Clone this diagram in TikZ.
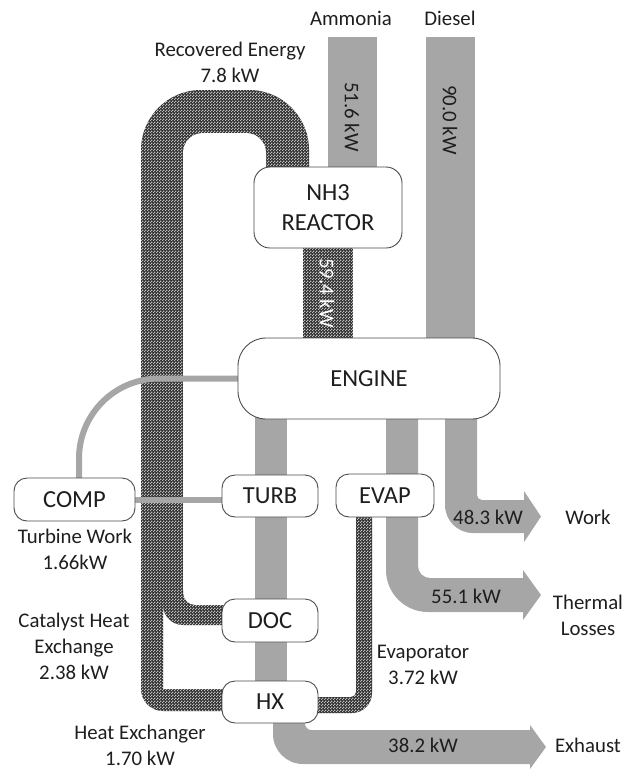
\documentclass[tikz,border=0pt]{standalone}
\usepackage{fontspec}
\setmainfont{Carlito}
\usetikzlibrary{patterns}
\definecolor{flowgray}{HTML}{A6A6A6}
\definecolor{txt}{HTML}{1E1E1E}
\newcommand\lblfont{\fontsize{20.8}{26}\selectfont}
\newcommand\boxfont{\fontsize{24.5}{30}\selectfont}
\pgfdeclarepatternformonly{checker}{\pgfqpoint{0pt}{0pt}}{\pgfqpoint{3pt}{3pt}}{\pgfqpoint{3pt}{3pt}}{%
  \pgfpathrectangle{\pgfqpoint{0pt}{0pt}}{\pgfqpoint{1.5pt}{1.5pt}}%
  \pgfpathrectangle{\pgfqpoint{1.5pt}{1.5pt}}{\pgfqpoint{1.5pt}{1.5pt}}%
  \pgfusepath{fill}}
\pgfdeclarelayer{bg}
\pgfsetlayers{bg,main}
\begin{document}
\begin{tikzpicture}[x=1pt,y=-1pt,
  flow/.style={fill=flowgray},
  darkflow/.style={preaction={fill=black!82}, pattern=checker, pattern color=black!25},
  link/.style={draw=flowgray, line width=6pt},
  box/.style={draw=black!70, line width=0.9pt, fill=white, rounded corners=13pt,
    inner sep=0pt, outer sep=0pt, font=\boxfont, text=txt, align=center},
  lbl/.style={font=\lblfont, text=txt, align=center, inner sep=0pt}
]
\useasboundingbox (0,0) rectangle (637,769);

% ---------- boxes ----------
\node[box, rounded corners=16pt, minimum width=148pt, minimum height=81pt] (reactor) at (328,207.5) {NH3\\REACTOR};
\node[box, rounded corners=28pt, minimum width=262pt, minimum height=81pt] (engine) at (369,378.5) {ENGINE};
\node[box, minimum width=96pt, minimum height=42pt] (turb) at (270,496) {TURB};
\node[box, minimum width=98pt, minimum height=43pt] (evap) at (385,495.5) {EVAP};
\node[box, minimum width=96pt, minimum height=43pt] (doc) at (270,620.5) {DOC};
\node[box, minimum width=96pt, minimum height=42pt] (hx) at (270,702) {HX};
\node[box, minimum width=121pt, minimum height=43pt] (comp) at (74.5,499.5) {COMP};

\begin{pgfonlayer}{bg}
% ---------- gray flows ----------
\fill[flow] (328,37) rectangle (377,185);              % ammonia
\fill[flow] (426,37) rectangle (475,350);              % diesel
\fill[flow] (255,410) rectangle (287,720);             % exhaust main
\fill[flow] (386,410) -- (386,570) .. controls (386,593.2) and (404.8,612) .. (428,612)
  -- (523,612) -- (523,620) -- (541,595) -- (523,570) -- (523,578) -- (430,578)
  .. controls (423.4,578) and (418,572.6) .. (418,566) -- (418,410) -- cycle; % thermal
\fill[flow] (445,410) -- (445,505) .. controls (445,520.5) and (457.5,533) .. (473,533)
  -- (524,533) -- (524,542) -- (541,516.5) -- (524,491) -- (524,500) -- (482,500)
  .. controls (479.2,500) and (477,497.8) .. (477,495) -- (477,410) -- cycle; % work
\fill[flow] (273,715) -- (273,734) .. controls (273,750.6) and (286.4,764) .. (303,764)
  -- (530,764) -- (530,769) -- (546,747) -- (530,725) -- (530,730) -- (311,730)
  .. controls (307.7,730) and (305,726.7) .. (305,724) -- (305,715) -- cycle; % exhaust

% ---------- recovered energy (dark) ----------
\begin{scope}
  \clip (120,80) rectangle (330,200);
  \fill[darkflow, rounded corners=60pt] (141,90) rectangle (309,400);
  \fill[white, rounded corners=20pt] (183,133) rectangle (266,400);
\end{scope}
\fill[darkflow] (141,195) rectangle (183,597);
\fill[darkflow] (163,590) -- (163,605) .. controls (163,616) and (172,625) .. (183,625)
  -- (225,625) -- (225,605) -- (195,605) .. controls (188.4,605) and (183,599.6) .. (183,593)
  -- (183,590) -- cycle;                                % to DOC
\fill[darkflow] (141,590) -- (141,689) .. controls (141,701.1) and (150.9,711) .. (163,711)
  -- (225,711) -- (225,689) -- (163,689) -- (163,590) -- cycle; % to HX
\fill[darkflow] (356,510) -- (372,510) -- (372,693) .. controls (372,704) and (363,713) .. (352,713)
  -- (315,713) -- (315,697) -- (351,697) .. controls (353.8,697) and (356,694.8) .. (356,692)
  -- cycle;                                           % evaporator
\fill[darkflow] (303,240) rectangle (353,345);          % 59.4 kW

% ---------- work links ----------
\draw[link, rounded corners=80pt] ([xshift=4.5pt]comp.north) |- (engine.west);
\draw[link] (comp.east) -- (comp.east -| turb.west);
\end{pgfonlayer}

% ---------- labels ----------
\node[lbl] (lamm) at (351,18) {Ammonia};
\node[lbl] (ldie) at (450,18) {Diesel};
\node[lbl] (lrec) at (230,62) {Recovered Energy\\7.8 kW};
\node[lbl, rotate=-90] (l516) at (352,117) {51.6 kW};
\node[lbl, rotate=-90] (l900) at (450,120) {90.0 kW};
\node[lbl, rotate=-90, text=white] (l594) at (327,293) {59.4 kW};
\node[lbl] (l483) at (488,517) {48.3 kW};
\node[lbl] (lwork) at (588,517) {Work};
\node[lbl] (l551) at (466,596) {55.1 kW};
\node[lbl] (lth) at (588,615) {Thermal\\Losses};
\node[lbl] (l382) at (423,745) {38.2 kW};
\node[lbl] (lexh) at (588,745) {Exhaust};
\node[lbl] (levap) at (423,665) {Evaporator\\3.72 kW};
\node[lbl] (lturb) at (75,549) {Turbine Work\\1.66kW};
\node[lbl] (lcat) at (74,646) {Catalyst Heat\\Exchange\\2.38 kW};
\node[lbl] (lhx) at (140,745) {Heat Exchanger\\1.70 kW};
\end{tikzpicture}
\end{document}
